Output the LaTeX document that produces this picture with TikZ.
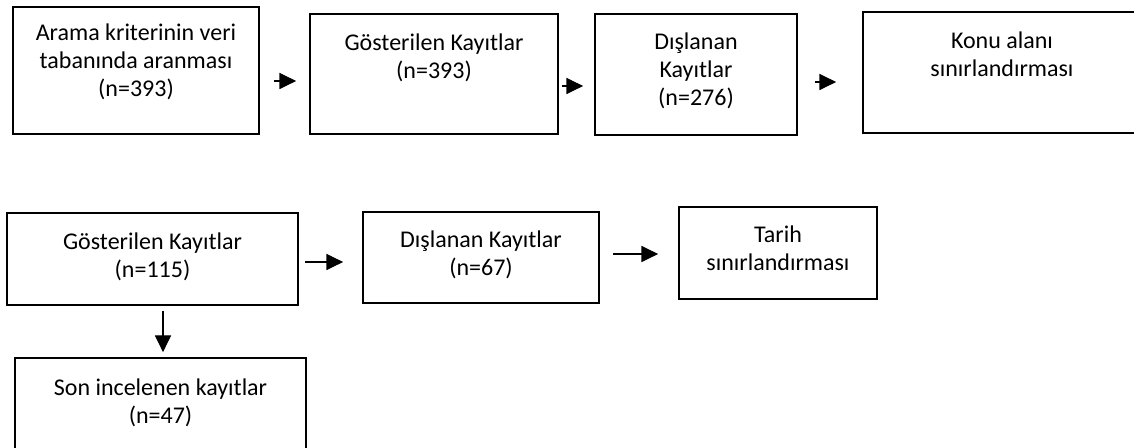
\documentclass[tikz,border=0pt]{standalone}
\usepackage{fontspec}
\setmainfont{Carlito}
\usetikzlibrary{arrows.meta}
\tikzset{
  box/.style={draw=black, line width=1.3pt, inner sep=0pt, fill=none},
  lbl/.style={anchor=north, inner sep=0pt, align=center, text=black,
    font=\fontsize{18pt}{21pt}\selectfont},
  arr/.style={draw=black, line width=0.8pt, -{Triangle[length=12.5pt,width=12pt]}}
}
\begin{document}
\begin{tikzpicture}[x=0.75pt, y=-0.75pt]
\useasboundingbox (0,0) rectangle (1134,448);
\clip (0,0) rectangle (1134,448);
% boxes
\node[box, minimum width=246*0.75pt, minimum height=127*0.75pt] (A) at (136,70.5) {};
\node[box, minimum width=248*0.75pt, minimum height=120*0.75pt] (B) at (434,74) {};
\node[box, minimum width=202*0.75pt, minimum height=121*0.75pt] (C) at (696,74.5) {};
\node[box, minimum width=278*0.75pt, minimum height=121*0.75pt] (D) at (1002,72.5) {};
\node[box, minimum width=291*0.75pt, minimum height=92*0.75pt] (E) at (152.5,259) {};
\node[box, minimum width=236*0.75pt, minimum height=91*0.75pt] (F) at (481,257.5) {};
\node[box, minimum width=198*0.75pt, minimum height=92*0.75pt] (G) at (778,253) {};
\node[box, minimum width=291*0.75pt, minimum height=96*0.75pt] (S) at (160.5,406) {};
% texts
\node[lbl] (tA) at (136,20.4) {\strut Arama kriterinin veri\\\strut tabanında aranması\\\strut (n=393)};
\node[lbl] (tB) at (434,30.4) {\strut Gösterilen Kayıtlar\\\strut (n=393)};
\node[lbl] (tC) at (696,29.4) {\strut Dışlanan\\\strut Kayıtlar\\\strut (n=276)};
\node[lbl] (tD) at (1002,28.4) {\strut Konu alanı\\\strut sınırlandırması};
\node[lbl] (tE) at (152.5,229.4) {\strut Gösterilen Kayıtlar\\\strut (n=115)};
\node[lbl] (tF) at (481,227.4) {\strut Dışlanan Kayıtlar\\\strut (n=67)};
\node[lbl] (tG) at (778,222.4) {\strut Tarih\\\strut sınırlandırması};
\node[lbl] (tS) at (160.5,375.4) {\strut Son incelenen kayıtlar\\\strut (n=47)};
% connectors
\draw[arr, shorten <=10.5pt, shorten >=9.75pt] ([yshift=-7.875pt]A.east) -- ([yshift=-5.25pt]B.west);
\draw[arr, shorten <=2.25pt, shorten >=8.25pt] ([yshift=-9pt]B.east) -- ([yshift=-8.625pt]C.west);
\draw[arr, shorten <=12.75pt, shorten >=19.5pt] ([yshift=-5.625pt]C.east) -- ([yshift=-7.125pt]D.west);
\draw[arr, shorten <=4.5pt, shorten >=14.25pt] ([yshift=-2.25pt]E.east) -- ([yshift=-3.375pt]F.west);
\draw[arr, shorten <=9.75pt, shorten >=15pt] ([yshift=2.625pt]F.east) -- ([yshift=-0.75pt]G.west);
\draw[arr, shorten <=3.75pt, shorten >=3.75pt] ([xshift=7.875pt]E.south) -- ([xshift=1.875pt]S.north);
\end{tikzpicture}
\end{document}
